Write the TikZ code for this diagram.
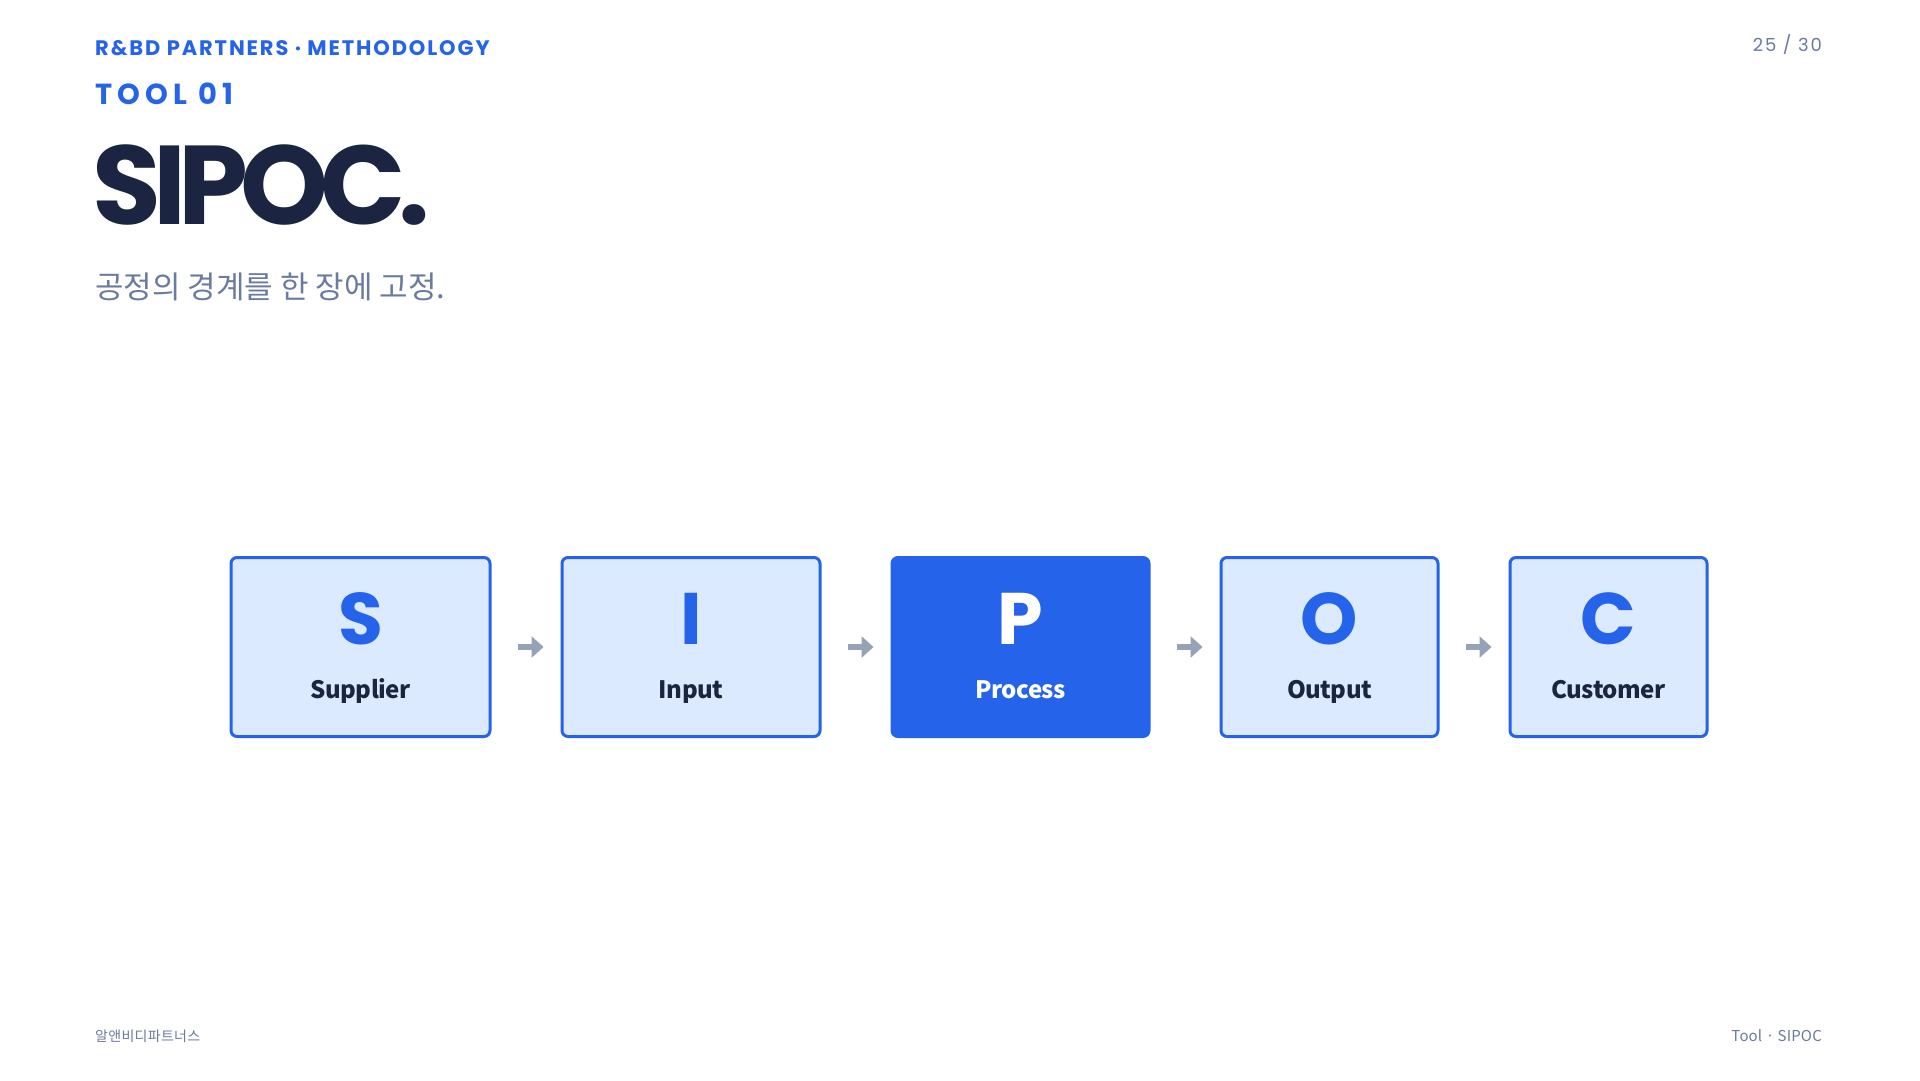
\documentclass[tikz,border=0pt]{standalone}
\usepackage{fontspec}
\setmainfont{Poppins}
\newfontfamily\kr{Noto Sans CJK KR}
\usetikzlibrary{positioning, arrows.meta}
\definecolor{brand}{HTML}{2563EB}
\definecolor{navy}{HTML}{1B2541}
\definecolor{pale}{HTML}{DBEAFE}
\definecolor{slate}{HTML}{6B7A9E}
\definecolor{arrowgray}{HTML}{94A3B8}

\begin{document}
\begin{tikzpicture}[x=1pt, y=-1pt,
    stage/.style={draw=brand, line width=3pt, fill=pale, rounded corners=6pt,
      minimum height=179pt, inner sep=0pt},
    hot/.style={stage, fill=brand},
    letter/.style={anchor=base, font=\fontsize{73}{73}\selectfont\bfseries},
    label/.style={anchor=base, font=\kr\fontsize{24}{24}\selectfont\bfseries\addfontfeatures{LetterSpace=-2}},
    flow/.style={arrowgray, line width=5.5pt, -{Triangle[length=12pt, width=21pt]},
      shorten <=26pt, shorten >=17pt}]
  \useasboundingbox[fill=white] (0, 0) rectangle (1920, 1080);
  % header
  \node[anchor=base west, text=brand, inner sep=0pt] (kicker) at (95, 55)
    {\fontsize{21}{21}\selectfont\bfseries\addfontfeatures{LetterSpace=9}R\&BD PARTNERS · METHODOLOGY};
  \node[anchor=base west, text=brand, inner sep=0pt] (tool) at (95, 104)
    {\fontsize{29}{29}\selectfont\bfseries\addfontfeatures{LetterSpace=18}TOOL 01};
  \node[anchor=base west, text=navy, inner sep=0pt] (title) at (92, 224)
    {\fontsize{112}{112}\selectfont\bfseries\addfontfeatures{LetterSpace=-7}SIPOC.};
  \node[anchor=base west, text=slate, inner sep=0pt] (sub) at (95, 298)
    {\kr\fontsize{31}{31}\selectfont 공정의 경계를 한 장에 고정.};
  \node[anchor=base east, text=slate, inner sep=0pt] (page) at (1822, 51)
    {\fontsize{18}{18}\selectfont\addfontfeatures{LetterSpace=10}25 / 30};
  % stages
  \node[stage, minimum width=259pt, anchor=west] (s) at (229.5, 647) {};
  \node[stage, minimum width=258pt, right=69pt of s] (i) {};
  \node[hot, minimum width=257pt, right=69pt of i] (p) {};
  \node[stage, minimum width=217pt, right=69pt of p] (o) {};
  \node[stage, minimum width=197pt, right=69pt of o] (c) {};
  \foreach \id/\ch/\name/\lc/\nc in {s/S/Supplier/brand/navy, i/I/Input/brand/navy,
      p/P/Process/white/white, o/O/Output/brand/navy, c/C/Customer/brand/navy} {
    \node[letter, text=\lc] (\id-ch) at ([yshift=-88pt]\id.north) {\ch};
    \node[label, text=\nc] (\id-name) at ([yshift=-142pt]\id.north) {\name};
  }
  % connectors
  \draw[flow] (s) -- (i);
  \draw[flow] (i) -- (p);
  \draw[flow] (p) -- (o);
  \draw[flow] (o) -- (c);
  % footer
  \node[anchor=base west, text=slate, inner sep=0pt] (brandname) at (95, 1041)
    {\kr\fontsize{14}{14}\selectfont\addfontfeatures{LetterSpace=2}알앤비디파트너스};
  \node[anchor=base east, text=slate, inner sep=0pt] (crumb) at (1822, 1041)
    {\kr\fontsize{15}{15}\selectfont\addfontfeatures{LetterSpace=1}Tool · SIPOC};
\end{tikzpicture}
\end{document}
